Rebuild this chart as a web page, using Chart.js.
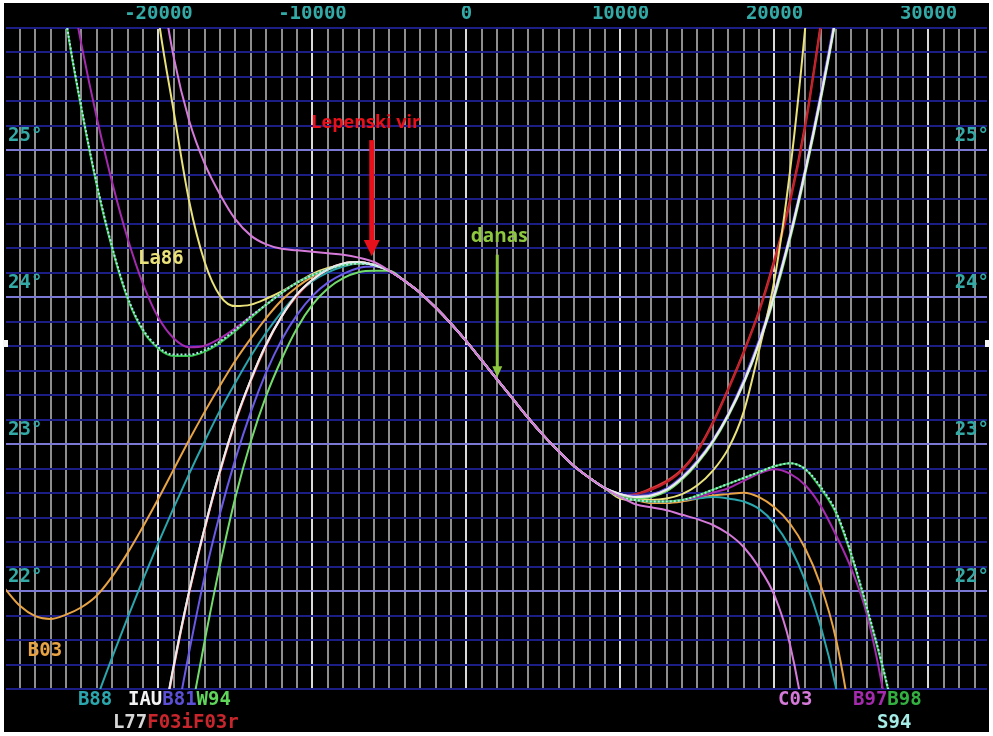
<!DOCTYPE html>
<html lang="sr">
<head>
<meta charset="UTF-8">
<title>Nagib ekliptike</title>
<script src="https://cdn.jsdelivr.net/npm/chart.js"></script>
<style>
  body { margin: 0; background: #fff; }
  canvas { display: block; }
</style>
</head>
<body>
<canvas id="nagib" width="993" height="736"></canvas>
<script>
// godine (x) - mreza na svakih 1000 godina
const years = [-30000, -29000, -28000, -27000, -26000, -25000, -24000, -23000, -22000, -21000,
  -20000, -19000, -18000, -17000, -16000, -15000, -14000, -13000, -12000, -11000,
  -10000, -9000, -8000, -7000, -6000, -5000, -4000, -3000, -2000, -1000,
  0, 1000, 2000, 3000, 4000, 5000, 6000, 7000, 8000, 9000,
  10000, 11000, 12000, 13000, 14000, 15000, 16000, 17000, 18000, 19000,
  20000, 21000, 22000, 23000, 24000, 25000, 26000, 27000, 28000];

// deo od -5000 do 9000 gde se sve formule poklapaju
const zajedno = [24.18, 24.11, 24.03, 23.93, 23.82, 23.70, 23.57, 23.44, 23.31, 23.18, 23.06, 22.95, 22.85, 22.77, 22.70];

// levo: -30000 .. -6000, desno: 10000 .. 28000 (stepeni)
const b03Levo = [22.02, 21.90, 21.83, 21.81, 21.84, 21.89, 21.97, 22.10, 22.26, 22.44, 22.63, 22.83, 23.03, 23.22, 23.40, 23.57, 23.72, 23.86, 23.98, 24.07, 24.14, 24.19, 24.22, 24.24, 24.22];
const b03Desno = [22.64, 22.62, 22.60, 22.60, 22.61, 22.63, 22.65, 22.66, 22.67, 22.64, 22.57, 22.46, 22.29, 22.04, 21.67, 21.08, 20.30, null, null];

const b88Levo = [null, null, null, null, null, 20.97, 21.27, 21.55, 21.82, 22.08, 22.33, 22.57, 22.80, 23.02, 23.23, 23.42, 23.60, 23.76, 23.90, 24.02, 24.11, 24.17, 24.21, 24.23, 24.22];
const b88Desno = [22.64, 22.62, 22.61, 22.61, 22.62, 22.63, 22.64, 22.63, 22.61, 22.56, 22.46, 22.30, 22.07, 21.76, 21.34, 20.78, null, null, null];

const iauLevo = [null, null, null, null, null, null, null, null, null, null, 20.93, 21.50, 22.00, 22.43, 22.82, 23.16, 23.44, 23.68, 23.87, 24.02, 24.12, 24.19, 24.23, 24.24, 24.22];
const iauDesno = [22.66, 22.64, 22.65, 22.69, 22.77, 22.88, 23.02, 23.20, 23.42, 23.69, 24.02, 24.41, 24.86, 25.36, 25.92, 26.60, null, null, null];

const l77Levo = [null, null, null, null, null, null, null, null, null, null, 20.92, 21.49, 22.00, 22.43, 22.82, 23.16, 23.44, 23.68, 23.87, 24.02, 24.12, 24.19, 24.23, 24.24, 24.22];
const l77Desno = [22.66, 22.64, 22.65, 22.69, 22.77, 22.88, 23.02, 23.20, 23.42, 23.69, 24.02, 24.41, 24.86, 25.36, 25.92, 26.59, null, null, null];

const b81Levo = [null, null, null, null, null, null, null, null, null, null, 20.45, 21.04, 21.59, 22.10, 22.53, 22.90, 23.22, 23.49, 23.71, 23.88, 24.01, 24.10, 24.16, 24.20, 24.21];
const b81Desno = [22.66, 22.65, 22.66, 22.70, 22.78, 22.89, 23.03, 23.21, 23.44, 23.71, 24.04, 24.43, 24.88, 25.39, 25.95, 26.60, null, null, null];

const w94Levo = [null, null, null, null, null, null, null, null, null, null, 19.90, 20.50, 21.10, 21.66, 22.18, 22.64, 23.02, 23.33, 23.58, 23.79, 23.95, 24.06, 24.13, 24.17, 24.18];
const w94Desno = [22.65, 22.63, 22.64, 22.68, 22.76, 22.87, 23.01, 23.19, 23.41, 23.68, 24.00, 24.39, 24.84, 25.34, 25.90, 26.55, null, null, null];

const f03iLevo = [null, null, null, null, null, null, null, null, null, null, 20.90, 21.48, 21.99, 22.42, 22.81, 23.15, 23.44, 23.68, 23.87, 24.02, 24.12, 24.19, 24.23, 24.24, 24.22];
const f03iDesno = [22.65, 22.66, 22.69, 22.74, 22.82, 22.95, 23.14, 23.37, 23.62, 23.90, 24.24, 24.64, 25.16, 25.84, 26.60, null, null, null, null];

const f03rLevo = [null, null, null, null, null, null, null, null, null, null, 20.91, 21.49, 21.99, 22.42, 22.81, 23.15, 23.43, 23.67, 23.87, 24.01, 24.12, 24.19, 24.23, 24.24, 24.22];
const f03rDesno = [22.65, 22.66, 22.70, 22.75, 22.83, 22.96, 23.15, 23.38, 23.63, 23.91, 24.26, 24.66, 25.18, 25.86, 26.62, null, null, null, null];

const la86Levo = [null, null, null, null, null, null, null, null, null, 26.80, 25.90, 25.26, 24.65, 24.24, 24.01, 23.94, 23.95, 23.99, 24.04, 24.10, 24.16, 24.20, 24.22, 24.23, 24.22];
const la86Desno = [22.63, 22.62, 22.62, 22.63, 22.66, 22.72, 22.82, 22.97, 23.22, 23.64, 24.12, 24.85, 25.84, 27.10, null, null, null, null, null];

const c03Levo = [null, null, null, null, null, null, null, null, null, 27.00, 26.25, 25.63, 25.20, 24.91, 24.70, 24.53, 24.42, 24.36, 24.33, 24.32, 24.31, 24.30, 24.29, 24.27, 24.24];
const c03Desno = [22.64, 22.59, 22.57, 22.55, 22.52, 22.49, 22.45, 22.39, 22.30, 22.16, 21.97, 21.64, 21.07, 20.20, null, null, null, null, null];

const b97Levo = [null, null, null, null, 26.29, 25.72, 25.22, 24.78, 24.40, 24.09, 23.86, 23.72, 23.66, 23.67, 23.72, 23.79, 23.87, 23.95, 24.03, 24.10, 24.15, 24.19, 24.22, 24.23, 24.22];
const b97Desno = [22.64, 22.62, 22.61, 22.61, 22.62, 22.64, 22.67, 22.70, 22.75, 22.80, 22.83, 22.80, 22.72, 22.58, 22.38, 22.15, 21.84, 21.35, 20.70];

const b98Levo = [null, null, null, 26.69, 25.88, 25.28, 24.76, 24.33, 23.99, 23.77, 23.65, 23.60, 23.60, 23.63, 23.69, 23.77, 23.86, 23.95, 24.03, 24.10, 24.15, 24.19, 24.22, 24.23, 24.22];
const b98Desno = [22.64, 22.62, 22.61, 22.61, 22.62, 22.65, 22.69, 22.73, 22.77, 22.81, 22.85, 22.87, 22.83, 22.70, 22.53, 22.24, 21.88, 21.49, 21.05];

const s94Levo = [null, null, null, 26.70, 25.89, 25.29, 24.77, 24.34, 24.00, 23.78, 23.66, 23.61, 23.61, 23.64, 23.70, 23.78, 23.87, 23.95, 24.03, 24.10, 24.15, 24.19, 24.22, 24.23, 24.22];
const s94Desno = [22.64, 22.62, 22.61, 22.61, 22.62, 22.65, 22.69, 22.73, 22.77, 22.81, 22.85, 22.87, 22.83, 22.71, 22.54, 22.25, 21.89, 21.50, 21.06];

// podela ose: x na svakih 1000 godina, y na svakih 10 lucnih minuta
const xTicks = [];
for (let t = -29000; t <= 33000; t += 1000) xTicks.push(t);
const yTicks = [];
for (let m = 1280; m <= 1550; m += 10) yTicks.push(m / 60);

const krive = [
  { ime: 'C03', boja: '#d57ad9', levo: c03Levo, desno: c03Desno },
  { ime: 'S94', boja: '#a6ece6', levo: s94Levo, desno: s94Desno, crta: [2, 2] },
  { ime: 'IAU', boja: '#ececec', levo: iauLevo, desno: iauDesno },
  { ime: 'L77', boja: '#cfcfcf', levo: l77Levo, desno: l77Desno },
  { ime: 'B98', boja: '#34c24a', levo: b98Levo, desno: b98Desno },
  { ime: 'B97', boja: '#a42aae', levo: b97Levo, desno: b97Desno },
  { ime: 'La86', boja: '#e9e17a', levo: la86Levo, desno: la86Desno },
  { ime: 'W94', boja: '#72dc6a', levo: w94Levo, desno: w94Desno },
  { ime: 'B81', boja: '#6a5ae8', levo: b81Levo, desno: b81Desno },
  { ime: 'F03i', boja: '#c0202a', levo: f03iLevo, desno: f03iDesno },
  { ime: 'F03r', boja: '#d83a3a', levo: f03rLevo, desno: f03rDesno },
  { ime: 'B88', boja: '#2aa6ac', levo: b88Levo, desno: b88Desno },
  { ime: 'B03', boja: '#e8a444', levo: b03Levo, desno: b03Desno }
];

const tirkiz = '#33aaa6';
const monoFont = { family: '"DejaVu Sans Mono", monospace', size: 19, weight: 'bold' };

const natpisi = {
  id: 'natpisi',
  beforeDraw(chart) {
    const c = chart.ctx;
    c.save();
    c.fillStyle = '#000';
    c.fillRect(4, 3, 985, 729);
    c.restore();
  },
  afterDatasetsDraw(chart) {
    const { ctx: c, scales: { x, y }, chartArea: a } = chart;
    c.save();

    // male bele oznake na ivicama
    c.fillStyle = '#f4f4f4';
    c.fillRect(3, 340, 5, 7);
    c.fillRect(985, 340, 5, 7);

    // oznake formula ispod grafika
    c.font = 'bold 19px "DejaVu Sans Mono", monospace';
    c.textBaseline = 'middle';
    c.textAlign = 'left';
    const grupe = [
      { god: -25230, red: 0, delovi: [['B88', '#2aa6ac']] },
      { god: -21980, red: 0, delovi: [['IAU', '#f2f2f2'], ['B81', '#5b4fd6'], ['W94', '#5fd65a']] },
      { god: -22960, red: 1, delovi: [['L77', '#d8d8d8'], ['F03i', '#c8262c'], ['F03r', '#c8262c']] },
      { god: 20230, red: 0, delovi: [['C03', '#d57ad9']] },
      { god: 25100, red: 0, delovi: [['B97', '#a42aae'], ['B98', '#34b040']] },
      { god: 26660, red: 1, delovi: [['S94', '#a6ece6']] }
    ];
    grupe.forEach(g => {
      let px = x.getPixelForValue(g.god);
      const py = a.bottom + (g.red === 0 ? 11 : 34);
      g.delovi.forEach(([t, boja]) => {
        c.fillStyle = boja;
        c.fillText(t, px, py);
        px += c.measureText(t).width;
      });
    });
    c.fillStyle = '#e8a444';
    c.fillText('B03', x.getPixelForValue(-28480), y.getPixelForValue(21.59));
    c.fillStyle = '#e9e17a';
    c.fillText('La86', x.getPixelForValue(-21330), y.getPixelForValue(24.26));

    // Lepenski vir
    const xl = x.getPixelForValue(-6150);
    c.fillStyle = '#e8101a';
    c.font = 'bold 18px "Open Sans", sans-serif';
    c.textAlign = 'center';
    c.fillText('Lepenski vir', xl - 6, y.getPixelForValue(25.19));
    c.fillRect(xl - 2.5, y.getPixelForValue(25.07), 5, y.getPixelForValue(24.39) - y.getPixelForValue(25.07));
    c.beginPath();
    c.moveTo(xl - 8, y.getPixelForValue(24.39));
    c.lineTo(xl + 8, y.getPixelForValue(24.39));
    c.lineTo(xl, y.getPixelForValue(24.28));
    c.closePath();
    c.fill();

    // danas
    const xd = x.getPixelForValue(2000);
    c.fillStyle = '#8dc63f';
    c.font = 'bold 19px "Open Sans", sans-serif';
    c.fillText('danas', xd + 2, y.getPixelForValue(24.41));
    c.fillRect(xd - 1.5, y.getPixelForValue(24.29), 3, y.getPixelForValue(23.52) - y.getPixelForValue(24.29));
    c.beginPath();
    c.moveTo(xd - 5, y.getPixelForValue(23.53));
    c.lineTo(xd + 5, y.getPixelForValue(23.53));
    c.lineTo(xd, y.getPixelForValue(23.455));
    c.closePath();
    c.fill();

    c.restore();
  }
};

const yOsa = (polozaj) => ({
  type: 'linear',
  position: polozaj,
  min: 1280 / 60,
  max: 1550 / 60,
  afterBuildTicks: ax => { ax.ticks = yTicks.map(v => ({ value: v })); },
  afterFit: ax => { ax.width = 0; },
  border: { display: false },
  grid: {
    display: polozaj === 'left',
    drawTicks: false,
    lineWidth: 2,
    color: ctx => (ctx.tick && Number.isInteger(ctx.tick.value)) ? '#7a78d2' : '#1d1d86'
  },
  ticks: {
    mirror: true,
    autoSkip: false,
    padding: 2,
    labelOffset: -14,
    color: tirkiz,
    font: monoFont,
    callback: v => Number.isInteger(v) ? v + '°' : ''
  }
});

new Chart(document.getElementById('nagib'), {
  type: 'line',
  data: {
    datasets: krive.map(k => {
      const vrednosti = [...k.levo, ...zajedno, ...k.desno];
      return {
        label: k.ime,
        data: years.map((t, i) => ({ x: t, y: vrednosti[i] })),
        borderColor: k.boja,
        borderWidth: 2,
        borderDash: k.crta || [],
        pointRadius: 0,
        fill: false,
        spanGaps: false,
        cubicInterpolationMode: 'monotone'
      };
    })
  },
  options: {
    responsive: false,
    animation: false,
    layout: { padding: { left: 6, right: 6, top: 6, bottom: 47 } },
    plugins: {
      legend: { display: false },
      tooltip: { enabled: false }
    },
    scales: {
      x: {
        type: 'linear',
        position: 'top',
        min: -29900,
        max: 33800,
        afterBuildTicks: ax => { ax.ticks = xTicks.map(v => ({ value: v })); },
        afterFit: ax => { ax.height = 22; },
        border: { display: false },
        grid: {
          drawTicks: false,
          lineWidth: 2,
          color: ctx => (ctx.tick && ctx.tick.value % 10000 === 0) ? '#dadada' : '#8e8e8e'
        },
        ticks: {
          autoSkip: false,
          maxRotation: 0,
          minRotation: 0,
          padding: 3,
          color: tirkiz,
          font: monoFont,
          callback: v => v % 10000 === 0 ? String(v) : ''
        }
      },
      y: yOsa('left'),
      y2: yOsa('right')
    }
  },
  plugins: [natpisi]
});
</script>
</body>
</html>
